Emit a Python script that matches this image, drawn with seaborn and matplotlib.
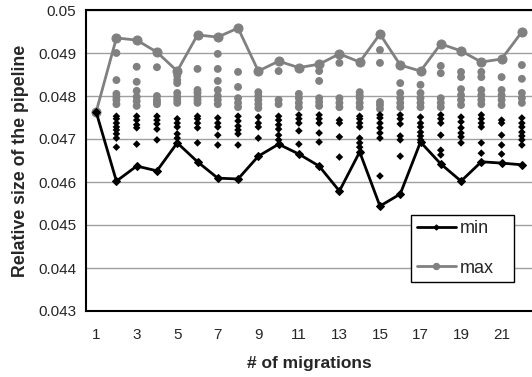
import numpy as np
import pandas as pd
import matplotlib
matplotlib.use("Agg")
import matplotlib.pyplot as plt
import seaborn as sns

# number of migrations (categories)
migrations = list(range(1, 23))

# envelope lines
min_size = [0.04763, 0.04602, 0.04637, 0.04626, 0.04691, 0.04647, 0.04609, 0.04607,
            0.04660, 0.04688, 0.04665, 0.04637, 0.04579, 0.04670, 0.04544, 0.04572,
            0.04693, 0.04642, 0.04602, 0.04647, 0.04644, 0.04640]
max_size = [0.04763, 0.04935, 0.04930, 0.04902, 0.04858, 0.04942, 0.04937, 0.04958,
            0.04858, 0.04881, 0.04866, 0.04874, 0.04898, 0.04879, 0.04944, 0.04872,
            0.04858, 0.04921, 0.04905, 0.04879, 0.04886, 0.04949]

# individual runs (upper cloud, gray circles)
upper_runs = [
    [],
    [0.04900, 0.04837, 0.04805, 0.04798, 0.04791, 0.04781],
    [0.04868, 0.04833, 0.04812, 0.04798, 0.04788, 0.04777],
    [0.04867, 0.04800, 0.04791, 0.04786, 0.04781],
    [0.04847, 0.04837, 0.04830, 0.04807, 0.04798, 0.04791, 0.04784],
    [0.04863, 0.04814, 0.04807, 0.04798, 0.04791, 0.04784],
    [0.04898, 0.04863, 0.04835, 0.04814, 0.04800, 0.04791, 0.04781],
    [0.04856, 0.04821, 0.04795, 0.04784, 0.04774],
    [0.04809, 0.04800, 0.04791, 0.04781, 0.04772],
    [0.04858, 0.04791, 0.04781],
    [0.04805, 0.04795, 0.04784, 0.04774],
    [0.04858, 0.04835, 0.04795, 0.04786, 0.04777],
    [0.04877, 0.04795, 0.04784, 0.04774],
    [0.04809, 0.04802, 0.04795, 0.04784, 0.04774],
    [0.04907, 0.04877, 0.04786, 0.04779, 0.04770],
    [0.04830, 0.04807, 0.04795, 0.04784, 0.04774],
    [0.04826, 0.04807, 0.04795, 0.04784, 0.04774],
    [0.04870, 0.04853, 0.04795, 0.04784, 0.04774],
    [0.04856, 0.04844, 0.04816, 0.04802, 0.04791, 0.04779],
    [0.04856, 0.04844, 0.04814, 0.04802, 0.04791, 0.04781],
    [0.04844, 0.04814, 0.04802, 0.04791, 0.04779],
    [0.04872, 0.04840, 0.04807, 0.04795, 0.04784],
]

# individual runs (lower cloud, black diamonds)
lower_runs = [
    [],
    [0.04753, 0.04747, 0.04737, 0.04728, 0.04721, 0.04712, 0.04702, 0.04681],
    [0.04753, 0.04744, 0.04733, 0.04726, 0.04688],
    [0.04753, 0.04744, 0.04735, 0.04723, 0.04698],
    [0.04747, 0.04737, 0.04728, 0.04712, 0.04702],
    [0.04753, 0.04747, 0.04737, 0.04726, 0.04691],
    [0.04749, 0.04737, 0.04728, 0.04709, 0.04686],
    [0.04753, 0.04742, 0.04730, 0.04721, 0.04712, 0.04686],
    [0.04751, 0.04737, 0.04728, 0.04702],
    [0.04753, 0.04744, 0.04733, 0.04723, 0.04709, 0.04698],
    [0.04756, 0.04747, 0.04737, 0.04719, 0.04688],
    [0.04756, 0.04747, 0.04737, 0.04714, 0.04693],
    [0.04744, 0.04737, 0.04705, 0.04658],
    [0.04753, 0.04747, 0.04737, 0.04728, 0.04702, 0.04691, 0.04681],
    [0.04756, 0.04749, 0.04737, 0.04726, 0.04714, 0.04702, 0.04614],
    [0.04756, 0.04747, 0.04735, 0.04707, 0.04698, 0.04660],
    [0.04751, 0.04737, 0.04728, 0.04716, 0.04707, 0.04698],
    [0.04756, 0.04747, 0.04737, 0.04709, 0.04674, 0.04663],
    [0.04751, 0.04740, 0.04726, 0.04714, 0.04705, 0.04691],
    [0.04756, 0.04747, 0.04737, 0.04728, 0.04691, 0.04667],
    [0.04744, 0.04737, 0.04709, 0.04686, 0.04665],
    [0.04749, 0.04737, 0.04728, 0.04716, 0.04707, 0.04698, 0.04686],
]

sns.set_style("white")
plt.rcParams['font.family'] = ['Liberation Sans', 'DejaVu Sans']

upper = pd.DataFrame([(m, v) for m, vals in zip(migrations, upper_runs) for v in vals],
                     columns=["m", "v"])
lower = pd.DataFrame([(m, v) for m, vals in zip(migrations, lower_runs) for v in vals],
                     columns=["m", "v"])
lines = pd.DataFrame({"m": migrations, "min": min_size, "max": max_size})

fig = plt.figure(figsize=(5.32, 3.77), dpi=100)
ax = fig.add_axes([86 / 532, 66 / 377, 446 / 532, 301 / 377])

ax.yaxis.grid(True, color="#a0a0a0", linewidth=1)
ax.set_axisbelow(True)

sns.scatterplot(data=upper, x="m", y="v", ax=ax, color="#808080", marker="o",
                s=32, edgecolor="none", legend=False)
sns.scatterplot(data=lower, x="m", y="v", ax=ax, color="black", marker="D",
                s=15, edgecolor="none", legend=False)
sns.lineplot(data=lines, x="m", y="max", ax=ax, color="#808080", linewidth=2,
             marker="o", markersize=6.5, markeredgecolor="#808080", label="max")
sns.lineplot(data=lines, x="m", y="min", ax=ax, color="black", linewidth=2,
             marker="D", markersize=3.8, markeredgecolor="black", label="min")

ax.set_xlim(0.5, 22.5)
ax.set_ylim(0.043, 0.05)
yt = np.arange(0.043, 0.05001, 0.001).round(3)
ax.set_yticks(yt)
ax.set_yticklabels([f"{t:g}" for t in yt])
ax.set_xticks(migrations[::2])
ax.set_xticks(np.arange(0.5, 22.6, 1), minor=True)
ax.tick_params(axis="x", which="major", length=0, labelsize=11, pad=12)
ax.tick_params(axis="x", which="minor", length=4, width=1, direction="out", color="black")
ax.tick_params(axis="y", length=4, width=1, direction="out", color="black", labelsize=11, pad=3)

for s in ["left", "bottom", "top"]:
    ax.spines[s].set_color("black")
    ax.spines[s].set_linewidth(1.5)
ax.spines["right"].set_visible(False)

ax.set_xlabel("# of migrations", fontsize=12.5, fontweight="bold", labelpad=10)
ax.set_ylabel("Relative size of the pipeline", fontsize=12.8, fontweight="bold")
ax.yaxis.set_label_coords(-0.128, 0.5)

handles, labels = ax.get_legend_handles_labels()
order = [labels.index("min"), labels.index("max")]
leg = ax.legend([handles[i] for i in order], [labels[i] for i in order],
                loc="lower left", bbox_to_anchor=(0.729, 0.096, 0.231, 0.216),
                mode="expand", borderaxespad=0, frameon=True, fancybox=False,
                framealpha=1, edgecolor="black", fontsize=13, handlelength=2.2,
                markerscale=0.7, labelspacing=1.25, borderpad=0.3, handletextpad=0.2)
leg.get_frame().set_linewidth(1)

fig.savefig("out.png", dpi=100)
